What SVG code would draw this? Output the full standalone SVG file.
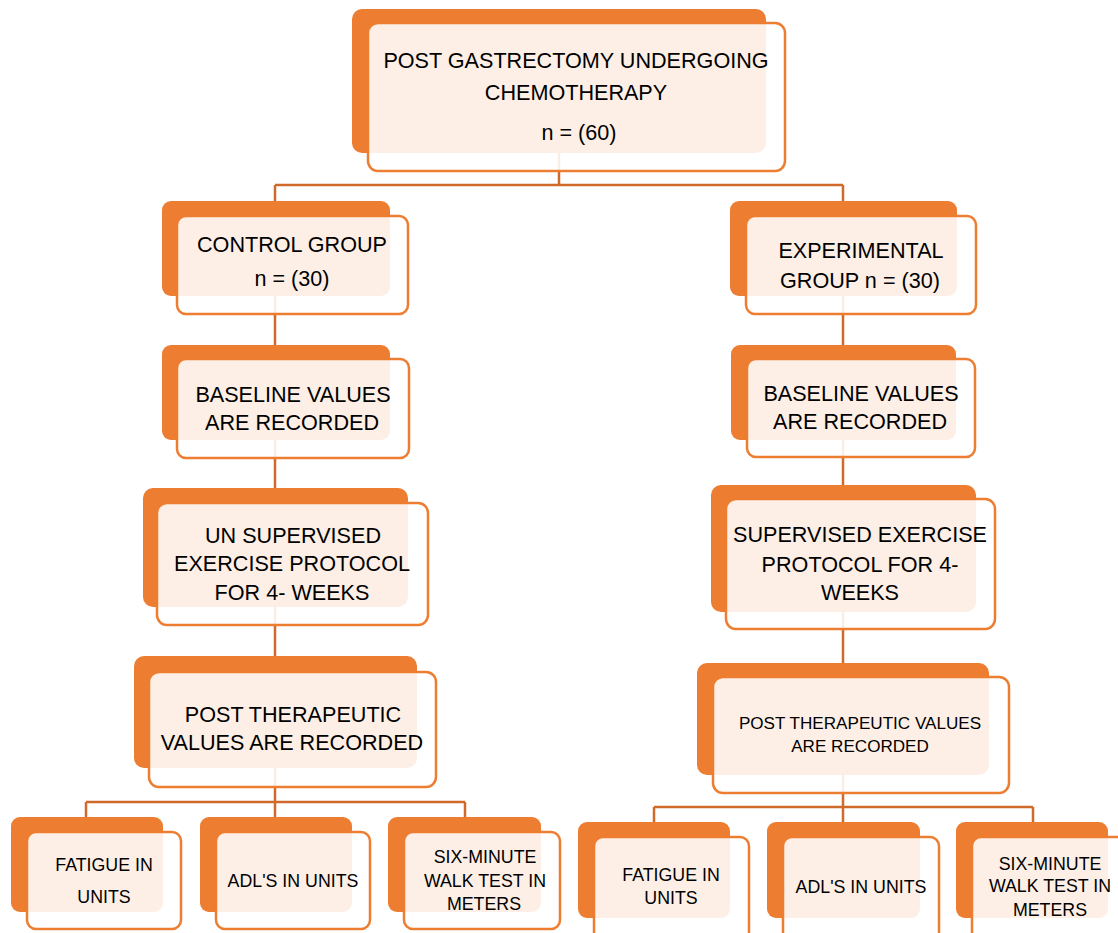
<svg xmlns="http://www.w3.org/2000/svg" width="1118" height="933" viewBox="0 0 1118 933">
<style>
.bk{fill:#ED7D31;}
.fr{fill:#FFFFFF;fill-opacity:0.88;stroke:#ED7D31;stroke-width:2.5;}
.cn{stroke:#D06A2A;stroke-width:2.5;fill:none;}
text{font-family:"Liberation Sans",Arial,sans-serif;fill:#000;text-anchor:middle;}
.l{font-size:21.6px;}
.m{font-size:17.1px;}
.s{font-size:17.8px;}
</style>
<rect width="1118" height="933" fill="#FFFFFF"/>
<g id="connectors">
<path class="cn" d="M559 152V185M275 185H843M275 185V201M843 185V201"/>
<path class="cn" d="M275 296V345M275 440V488M275 607V656M275 768V802M86 802H465M86 802V817M275 802V817M465 802V817"/>
<path class="cn" d="M843 296V345M843 440V485M843 612V663M843 775V807M654 807H1033M654 807V822M843 807V822M1033 807V822"/>
</g>
<g id="n-top">
<rect class="bk" x="352" y="9" width="414" height="144" rx="10"/>
<rect class="fr" x="368" y="23" width="417" height="148" rx="10"/>
<text class="l" x="576" y="68">POST GASTRECTOMY UNDERGOING</text>
<text class="l" x="576" y="100">CHEMOTHERAPY</text>
<text class="l" x="579" y="140">n = (60)</text>
</g>
<g id="n-control">
<rect class="bk" x="162" y="201" width="228" height="95" rx="9"/>
<rect class="fr" x="177" y="216" width="231" height="98" rx="9"/>
<text class="l" x="292" y="252">CONTROL GROUP</text>
<text class="l" x="292" y="286">n = (30)</text>
</g>
<g id="n-experimental">
<rect class="bk" x="730" y="201" width="227" height="95" rx="9"/>
<rect class="fr" x="746" y="216" width="230" height="98" rx="9"/>
<text class="l" x="861" y="258">EXPERIMENTAL</text>
<text class="l" x="860" y="288">GROUP n = (30)</text>
</g>
<g id="n-baseline-left">
<rect class="bk" x="162" y="345" width="228" height="95" rx="9"/>
<rect class="fr" x="177" y="359" width="232" height="99" rx="9"/>
<text class="l" x="293" y="402">BASELINE VALUES</text>
<text class="l" x="292" y="430">ARE RECORDED</text>
</g>
<g id="n-baseline-right">
<rect class="bk" x="731" y="345" width="225" height="95" rx="9"/>
<rect class="fr" x="747" y="359" width="228" height="98" rx="9"/>
<text class="l" x="861" y="401">BASELINE VALUES</text>
<text class="l" x="860" y="429">ARE RECORDED</text>
</g>
<g id="n-unsupervised">
<rect class="bk" x="143" y="488" width="265" height="119" rx="10"/>
<rect class="fr" x="157" y="503" width="271" height="122" rx="10"/>
<text class="l" x="293" y="543">UN SUPERVISED</text>
<text class="l" x="292" y="571">EXERCISE PROTOCOL</text>
<text class="l" x="292" y="600">FOR 4- WEEKS</text>
</g>
<g id="n-supervised">
<rect class="bk" x="711" y="485" width="265" height="127" rx="10"/>
<rect class="fr" x="726" y="499" width="269" height="130" rx="10"/>
<text class="l" x="860" y="542">SUPERVISED EXERCISE</text>
<text class="l" x="860" y="572">PROTOCOL FOR 4-</text>
<text class="l" x="860" y="600">WEEKS</text>
</g>
<g id="n-post-left">
<rect class="bk" x="134" y="656" width="283" height="112" rx="10"/>
<rect class="fr" x="149" y="672" width="287" height="115" rx="10"/>
<text class="l" x="293" y="722">POST THERAPEUTIC</text>
<text class="l" x="292" y="750">VALUES ARE RECORDED</text>
</g>
<g id="n-post-right">
<rect class="bk" x="697" y="663" width="292" height="112" rx="10"/>
<rect class="fr" x="713" y="677" width="296" height="116" rx="10"/>
<text class="m" x="860" y="729">POST THERAPEUTIC VALUES</text>
<text class="m" x="860" y="752">ARE RECORDED</text>
</g>
<g id="n-fatigue-left">
<rect class="bk" x="11" y="817" width="152" height="95" rx="9"/>
<rect class="fr" x="27" y="832" width="154" height="97" rx="9"/>
<text class="s" x="104" y="871">FATIGUE IN</text>
<text class="s" x="104" y="903">UNITS</text>
</g>
<g id="n-adl-left">
<rect class="bk" x="200" y="817" width="152" height="95" rx="9"/>
<rect class="fr" x="216" y="832" width="154" height="97" rx="9"/>
<text class="s" x="293" y="887">ADL'S IN UNITS</text>
</g>
<g id="n-walk-left">
<rect class="bk" x="388" y="817" width="153" height="95" rx="9"/>
<rect class="fr" x="404" y="832" width="156" height="97" rx="9"/>
<text class="s" x="485" y="863">SIX-MINUTE</text>
<text class="s" x="485" y="887">WALK TEST IN</text>
<text class="s" x="484" y="910">METERS</text>
</g>
<g id="n-fatigue-right">
<rect class="bk" x="578" y="822" width="152" height="96" rx="9"/>
<rect class="fr" x="594" y="837" width="155" height="104" rx="9"/>
<text class="s" x="671" y="881">FATIGUE IN</text>
<text class="s" x="671" y="904">UNITS</text>
</g>
<g id="n-adl-right">
<rect class="bk" x="767" y="822" width="153" height="96" rx="9"/>
<rect class="fr" x="783" y="837" width="156" height="104" rx="9"/>
<text class="s" x="861" y="893">ADL'S IN UNITS</text>
</g>
<g id="n-walk-right">
<rect class="bk" x="956" y="822" width="152" height="96" rx="9"/>
<rect class="fr" x="972" y="837" width="156" height="104" rx="9"/>
<text class="s" x="1050" y="870">SIX-MINUTE</text>
<text class="s" x="1050" y="892">WALK TEST IN</text>
<text class="s" x="1050" y="916">METERS</text>
</g>
</svg>
